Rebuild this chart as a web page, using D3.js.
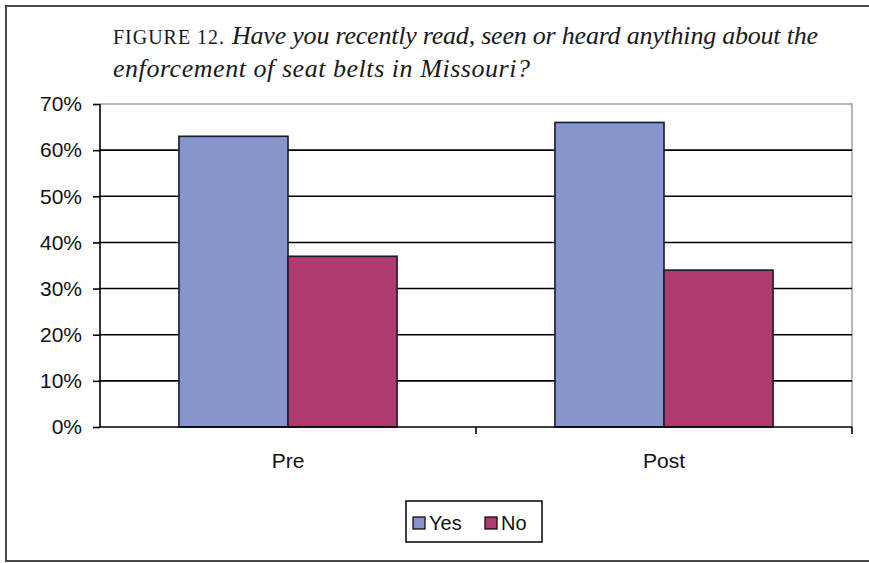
<!DOCTYPE html>
<html><head><meta charset="utf-8">
<script src="https://cdn.jsdelivr.net/npm/d3@7"></script>
<style>body{margin:0;background:#fff}svg{display:block}</style>
</head><body>
<script>
const categories = ["Pre", "Post"];
const seriesNames = ["Yes", "No"];
const yesValues = [0.63, 0.66];
const noValues = [0.37, 0.34];
const yTicks = [0, 0.1, 0.2, 0.3, 0.4, 0.5, 0.6, 0.7];
const colors = ["#8696cc", "#b03a6e"];

const W = 869, H = 563;
const svg = d3.select("body").append("svg").attr("width", W).attr("height", H);

// outer frame
svg.append("path").attr("d", `M${W+5},6 H6 V561 H${W+5}`).attr("fill","none").attr("stroke","#4a4a4a").attr("stroke-width",2);

// title
const serif = "Liberation Serif, serif";
svg.append("text").attr("x",113).attr("y",44).attr("font-family",serif).attr("font-size",20).attr("fill","#1a1a1a")
  .attr("textLength",111).attr("lengthAdjust","spacing")
  .text("FIGURE 12.");
svg.append("text").attr("x",232).attr("y",44).attr("font-family",serif).attr("font-size",26).attr("font-style","italic").attr("fill","#1a1a1a")
  .attr("textLength",586).attr("lengthAdjust","spacing")
  .text("Have you recently read, seen or heard anything about the");
svg.append("text").attr("x",113).attr("y",77).attr("font-family",serif).attr("font-size",26).attr("font-style","italic").attr("fill","#1a1a1a")
  .attr("textLength",417).attr("lengthAdjust","spacing")
  .text("enforcement of seat belts in Missouri?");

const L = 100, R = 852, T = 104, B = 427;
const x0 = d3.scaleBand().domain(categories).range([L, R]).paddingInner(0).paddingOuter(0);
const x1 = d3.scaleBand().domain(seriesNames).range([0, x0.bandwidth()*0.58]);
const y = d3.scaleLinear().domain([0, 0.7]).range([B, T]);

// plot border top/right (gray)
svg.append("path").attr("d", `M${L},${T} H${R} V${B}`).attr("fill","none").attr("stroke","#a0a0a0").attr("stroke-width",1.5);

// gridlines
svg.append("g").selectAll("line").data(yTicks.filter(d => d > 0 && d < 0.7)).join("line")
  .attr("x1", L).attr("x2", R).attr("y1", d => y(d)).attr("y2", d => y(d))
  .attr("stroke","#000").attr("stroke-width",1.6);

// bars
const data = categories.map((c,i) => ({cat:c, vals:[yesValues[i], noValues[i]]}));
const groupOffset = (x0.bandwidth() - x1.range()[1]) / 2;
const g = svg.append("g").selectAll("g").data(data).join("g")
  .attr("transform", d => `translate(${x0(d.cat)+groupOffset},0)`);
g.selectAll("rect").data(d => d.vals.map((v,j)=>({s:seriesNames[j], v, j}))).join("rect")
  .attr("x", d => x1(d.s)).attr("width", x1.bandwidth())
  .attr("y", d => y(d.v)).attr("height", d => B - y(d.v))
  .attr("fill", d => colors[d.j]).attr("stroke","#1a1a2a").attr("stroke-width",1.6);

const sans = "Liberation Sans, Arial, sans-serif";
// y axis
const yAxis = d3.axisLeft(y).tickValues(yTicks).tickFormat(d3.format(".0%")).tickSize(7).tickPadding(11);
const ya = svg.append("g").attr("transform",`translate(${L},0)`).call(yAxis);
ya.select(".domain").attr("stroke","#000").attr("stroke-width",1.6).attr("d",`M0,${T}V${B}`);
ya.selectAll(".tick line").attr("stroke","#000").attr("stroke-width",1.6);
ya.selectAll("text").attr("font-family",sans).attr("font-size",21).attr("fill","#111");

// x axis
const xAxis = d3.axisBottom(x0).tickSize(0).tickPadding(26);
const xa = svg.append("g").attr("transform",`translate(0,${B})`).call(xAxis);
xa.select(".domain").attr("stroke","#000").attr("stroke-width",1.6).attr("d",`M${L},0H${R}`);
xa.selectAll("text").attr("font-family",sans).attr("font-size",21).attr("fill","#111");
svg.append("g").selectAll("line").data(categories.slice(1).concat(["end"])).join("line")
  .attr("x1", d => d === "end" ? R : x0(d)).attr("x2", d => d === "end" ? R : x0(d))
  .attr("y1", B).attr("y2", B+7).attr("stroke","#000").attr("stroke-width",1.6);

// legend
const lg = svg.append("g");
lg.append("rect").attr("x",406).attr("y",501).attr("width",136).attr("height",41).attr("fill","#fff").attr("stroke","#000").attr("stroke-width",1.5);
const items = [{name:"Yes", x:413, c:colors[0]}, {name:"No", x:485, c:colors[1]}];
items.forEach(it => {
  lg.append("rect").attr("x",it.x).attr("y",517).attr("width",12).attr("height",12).attr("fill",it.c).attr("stroke","#000").attr("stroke-width",1.2);
  lg.append("text").attr("x",it.x+16).attr("y",530).attr("font-family",sans).attr("font-size",20).attr("fill","#111").text(it.name);
});
</script>
</body></html>
